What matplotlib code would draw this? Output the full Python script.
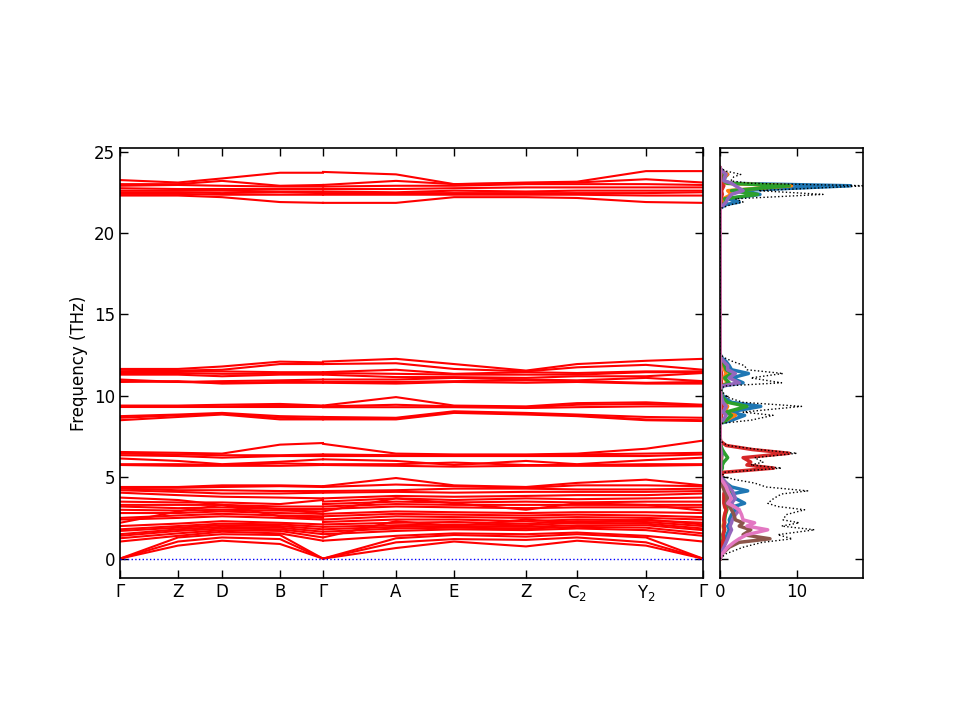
import numpy as np
import matplotlib
matplotlib.use("Agg")
import matplotlib.pyplot as plt

# k-path: high-symmetry points and their distances along the path
kpt_labels = ["Γ", "Z", "D", "B", "Γ", "A", "E", "Z", "C$_2$", "Y$_2$", "Γ"]
kpt_dist = [0.0, 0.0995, 0.1750, 0.2744, 0.3482, 0.4734, 0.5729, 0.6964, 0.7839, 0.9022, 1.0]

# band frequencies (THz): first 5 values = Γ Z D B Γ, last 7 = Γ A E Z C2 Y2 Γ
bands_top = [
    [23.25, 23.1, 23.35, 23.7, 23.7, 23.75, 23.6, 23.0, 23.1, 23.15, 23.8, 23.8],
    [23.0, 23.0, 23.2, 22.9, 22.95, 22.95, 23.2, 23.0, 23.05, 23.1, 23.3, 23.1],
    [22.9, 22.95, 22.9, 22.85, 22.85, 22.85, 22.9, 22.9, 23.0, 23.0, 23.0, 22.95],
    [22.75, 22.7, 22.7, 22.7, 22.7, 22.7, 22.7, 22.75, 22.8, 22.8, 22.8, 22.8],
    [22.6, 22.6, 22.6, 22.55, 22.55, 22.55, 22.5, 22.6, 22.55, 22.6, 22.6, 22.6],
    [22.5, 22.5, 22.45, 22.5, 22.45, 22.45, 22.45, 22.45, 22.45, 22.45, 22.45, 22.5],
    [22.4, 22.4, 22.35, 22.35, 22.35, 22.35, 22.35, 22.35, 22.35, 22.35, 22.3, 22.3],
    [22.3, 22.3, 22.2, 21.9, 21.85, 21.85, 21.85, 22.2, 22.2, 22.15, 21.9, 21.85],
]
bands_11 = [
    [11.65, 11.65, 11.8, 12.1, 12.05, 12.1, 12.27, 11.95, 11.55, 11.95, 12.15, 12.27],
    [11.6, 11.55, 11.6, 11.95, 11.95, 11.95, 12.0, 11.65, 11.5, 11.75, 11.9, 11.6],
    [11.5, 11.5, 11.5, 11.45, 11.45, 11.45, 11.6, 11.35, 11.45, 11.4, 11.5, 11.5],
    [11.4, 11.4, 11.35, 11.35, 11.4, 11.4, 11.35, 11.3, 11.3, 11.3, 11.45, 11.45],
    [11.3, 11.3, 11.2, 11.3, 11.3, 11.3, 11.15, 11.15, 11.1, 11.2, 11.2, 11.4],
    [11.0, 10.85, 10.9, 10.95, 11.0, 11.0, 11.0, 11.1, 11.0, 10.95, 11.1, 10.9],
    [10.9, 10.85, 10.8, 10.85, 10.85, 10.85, 10.85, 10.9, 10.95, 10.9, 10.8, 10.85],
    [10.85, 10.9, 10.75, 10.8, 10.8, 10.8, 10.75, 10.85, 10.8, 10.85, 10.75, 10.75],
]
bands_9 = [
    [9.4, 9.4, 9.45, 9.5, 9.4, 9.4, 9.92, 9.4, 9.35, 9.55, 9.6, 9.45],
    [9.35, 9.35, 9.35, 9.4, 9.35, 9.35, 9.45, 9.35, 9.3, 9.45, 9.5, 9.4],
    [9.3, 9.3, 9.3, 9.3, 9.3, 9.3, 9.3, 9.3, 9.25, 9.3, 9.35, 9.35],
    [8.75, 8.85, 8.95, 8.75, 8.7, 8.7, 8.65, 9.05, 8.95, 8.85, 8.7, 8.65],
    [8.65, 8.8, 8.9, 8.65, 8.6, 8.6, 8.6, 9.0, 8.9, 8.8, 8.55, 8.5],
    [8.5, 8.7, 8.85, 8.55, 8.55, 8.55, 8.55, 8.95, 8.85, 8.75, 8.5, 8.45],
]
bands_6 = [
    [6.55, 6.5, 6.45, 7.0, 7.1, 7.05, 6.45, 6.4, 6.4, 6.45, 6.75, 7.25],
    [6.45, 6.4, 6.35, 6.35, 6.4, 6.4, 6.35, 6.35, 6.35, 6.4, 6.45, 6.5],
    [6.35, 6.3, 6.2, 6.3, 6.3, 6.3, 6.3, 6.3, 6.3, 6.3, 6.3, 6.4],
    [6.15, 6.0, 5.8, 5.95, 6.1, 6.1, 6.0, 5.75, 6.0, 5.8, 6.05, 6.2],
    [5.8, 5.8, 5.75, 5.85, 5.8, 5.8, 5.8, 5.9, 5.75, 5.75, 5.8, 5.8],
    [5.75, 5.7, 5.7, 5.7, 5.75, 5.75, 5.7, 5.65, 5.7, 5.7, 5.7, 5.75],
]
bands_low = [
    [0.0, 0.8, 1.1, 0.9, 0.0, 0.0, 0.65, 1.05, 0.75, 1.1, 0.8, 0.0],
    [0.0, 1.05, 1.3, 1.2, 0.0, 0.0, 1.0, 1.2, 1.15, 1.3, 1.0, 0.0],
    [0.0, 1.3, 1.5, 1.45, 0.0, 0.0, 1.25, 1.45, 1.35, 1.5, 1.3, 0.0],
    [1.05, 1.4, 1.65, 1.55, 1.1, 1.1, 1.4, 1.55, 1.5, 1.6, 1.4, 1.05],
    [1.25, 1.55, 1.75, 1.7, 1.3, 1.3, 2.3, 2.0, 2.4, 2.2, 2.4, 2.1],
    [1.4, 1.7, 1.85, 1.8, 1.5, 1.5, 1.7, 1.8, 1.75, 1.85, 1.75, 1.4],
    [1.5, 1.8, 1.95, 1.9, 1.65, 1.65, 1.85, 1.9, 1.85, 1.95, 1.9, 1.55],
    [1.7, 1.9, 2.05, 2.0, 1.8, 1.8, 1.95, 2.0, 1.95, 2.05, 2.05, 1.75],
    [1.8, 2.0, 2.15, 2.1, 1.95, 1.95, 2.05, 2.1, 2.05, 2.2, 2.15, 1.85],
    [2.0, 2.15, 2.3, 2.2, 2.1, 2.1, 2.2, 2.25, 2.15, 2.3, 2.25, 2.0],
    [2.2, 2.9, 3.3, 3.05, 2.75, 2.25, 2.4, 2.4, 2.3, 2.4, 2.35, 2.2],
    [2.4, 2.5, 2.6, 2.5, 2.4, 2.4, 2.6, 2.55, 2.5, 2.55, 2.5, 2.4],
    [2.5, 2.65, 2.75, 2.65, 2.6, 2.6, 2.75, 2.7, 2.65, 2.7, 2.65, 2.55],
    [2.8, 2.8, 2.9, 2.8, 2.75, 2.75, 2.9, 2.85, 2.8, 2.85, 2.85, 2.8],
    [3.0, 2.95, 3.0, 2.95, 2.9, 2.9, 3.7, 3.4, 3.0, 3.4, 3.3, 2.95],
    [3.2, 3.1, 3.15, 3.05, 3.05, 3.05, 3.2, 3.15, 3.1, 3.15, 3.15, 3.15],
    [3.3, 3.3, 3.3, 3.2, 3.2, 3.2, 3.35, 3.3, 3.3, 3.3, 3.3, 3.3],
    [3.5, 3.45, 3.45, 3.35, 3.6, 3.35, 3.5, 3.45, 3.5, 3.45, 3.5, 3.5],
    [3.75, 3.6, 3.3, 2.6, 2.5, 3.5, 3.7, 3.6, 3.7, 3.65, 3.7, 3.75],
    [4.05, 3.9, 3.8, 3.75, 3.7, 3.7, 3.85, 3.8, 3.85, 3.9, 3.9, 4.0],
    [4.2, 4.1, 4.0, 4.0, 4.05, 4.05, 4.1, 4.05, 4.1, 4.1, 4.1, 4.15],
    [4.3, 4.2, 4.2, 4.15, 4.15, 4.15, 4.2, 4.3, 4.3, 4.25, 4.25, 4.3],
    [4.35, 4.35, 4.4, 4.45, 4.4, 4.4, 4.55, 4.45, 4.35, 4.5, 4.5, 4.45],
    [4.4, 4.4, 4.5, 4.5, 4.45, 4.45, 4.95, 4.5, 4.4, 4.65, 4.85, 4.5],
]

# phonon DOS (states/THz) on a frequency list
dos_freq = [0.0, 0.3, 0.7, 1.0, 1.22, 1.47, 1.77, 2.0, 2.2, 2.38,
            2.7, 3.0, 3.2, 3.4, 3.7, 3.97, 4.16, 4.4, 4.64, 4.85,
            5.05, 5.3, 5.56, 5.75, 5.93, 6.2, 6.47, 6.7, 6.95, 7.2,
            7.5, 8.3, 8.5, 8.8, 9.0, 9.35, 9.6, 9.9, 10.3, 10.6,
            10.8, 11.1, 11.37, 11.6, 11.85, 12.1, 12.35, 12.6, 21.5, 21.75,
            21.9, 22.1, 22.37, 22.6, 22.9, 23.05, 23.2, 23.45, 23.6, 23.8,
            24.0]
dos_total = [0, 0.8, 3.0, 5.5, 9.4, 7.5, 12.3, 8.0, 10.3, 8.2,
             8.6, 11.0, 7.5, 6.2, 7.0, 8.0, 11.4, 6.0, 4.5, 2.0,
             0.3, 0.5, 8.0, 4.0, 5.6, 4.5, 10.0, 5.0, 1.0, 0.1,
             0, 0, 4.0, 6.9, 3.0, 10.6, 3.0, 1.0, 0.2, 0.5,
             8.0, 4.0, 8.2, 3.5, 3.2, 1.7, 0.5, 0, 0, 1.5,
             3.0, 2.0, 13.4, 5.0, 19.0, 4.0, 1.4, 1.8, 2.7, 0.8,
             0]
pdos_1 = [0, 0.1, 0.4, 0.6, 0.8, 0.9, 1.2, 1.0, 1.3, 1.2,
          1.5, 2.0, 1.8, 3.2, 2.0, 1.5, 3.6, 1.5, 0.8, 0.4,
          0.05, 0.05, 0.1, 0.1, 0.2, 0.2, 0.3, 0.2, 0.1, 0,
          0, 0, 1.5, 3.2, 1.2, 5.3, 1.5, 0.5, 0.1, 0.3,
          3.0, 1.5, 3.7, 1.5, 1.2, 0.8, 0.2, 0, 0, 0.8,
          2.5, 1.0, 5.2, 2.0, 17.0, 1.5, 0.5, 0.7, 1.0, 0.3,
          0]
pdos_2 = [0, 0.05, 0.2, 0.3, 0.4, 0.4, 0.5, 0.4, 0.5, 0.5,
          0.6, 0.8, 0.6, 0.7, 0.6, 0.7, 1.0, 0.6, 0.4, 0.2,
          0.05, 0.05, 0.1, 0.1, 0.1, 0.2, 0.2, 0.1, 0.05, 0,
          0, 0, 0.8, 2.0, 0.6, 1.0, 0.5, 0.3, 0.05, 0.2,
          1.0, 0.5, 0.8, 0.6, 0.5, 0.3, 0.1, 0, 0, 0.3,
          0.5, 0.4, 1.5, 1.0, 9.3, 0.8, 0.3, 0.6, 1.0, 0.2,
          0]
pdos_3 = [0, 0.05, 0.2, 0.3, 0.4, 0.4, 0.6, 0.5, 0.6, 0.6,
          0.7, 0.9, 0.8, 1.0, 0.9, 1.0, 1.5, 1.2, 0.8, 0.3,
          0.05, 0.1, 0.3, 0.3, 0.5, 1.0, 0.6, 0.3, 0.1, 0,
          0, 0, 0.8, 1.5, 0.8, 3.5, 1.0, 0.3, 0.05, 0.2,
          1.2, 0.6, 1.5, 0.8, 0.6, 0.4, 0.1, 0, 0, 0.3,
          0.8, 0.6, 4.9, 1.5, 9.0, 1.0, 0.3, 0.4, 0.6, 0.2,
          0]
pdos_4 = [0, 0.05, 0.2, 0.3, 0.5, 0.4, 0.6, 0.5, 0.6, 0.5,
          0.6, 0.8, 0.6, 0.5, 0.5, 0.5, 0.6, 0.4, 0.3, 0.2,
          0.2, 0.4, 7.0, 3.5, 4.0, 3.0, 9.0, 4.2, 0.8, 0.1,
          0, 0, 0.1, 0.2, 0.1, 0.3, 0.1, 0.05, 0, 0,
          0.2, 0.1, 0.2, 0.1, 0.1, 0.05, 0, 0, 0, 0.05,
          0.1, 0.1, 0.3, 0.2, 0.5, 0.2, 0.1, 0.1, 0.1, 0.05,
          0]
pdos_5 = [0, 0.1, 0.5, 0.8, 1.0, 1.2, 1.5, 1.3, 1.5, 1.6,
          2.0, 2.5, 1.8, 1.5, 2.0, 1.8, 1.6, 1.2, 0.8, 0.4,
          0.05, 0.05, 0.1, 0.1, 0.1, 0.1, 0.2, 0.1, 0.05, 0,
          0, 0, 0.4, 0.8, 0.4, 0.8, 0.4, 0.2, 0.05, 0.2,
          2.5, 1.2, 2.0, 1.0, 1.0, 0.5, 0.1, 0, 0, 0.5,
          0.8, 1.0, 1.5, 3.0, 2.0, 1.5, 0.5, 0.6, 0.8, 0.3,
          0]
pdos_6 = [0, 0.3, 1.2, 2.5, 6.5, 3.0, 4.0, 2.5, 3.0, 2.0,
          1.8, 1.5, 1.2, 0.8, 1.0, 0.8, 0.6, 0.4, 0.3, 0.1,
          0, 0, 0.05, 0.05, 0.05, 0.05, 0.05, 0.05, 0, 0,
          0, 0, 0, 0.05, 0, 0.05, 0, 0, 0, 0,
          0.05, 0, 0.05, 0, 0, 0, 0, 0, 0, 0,
          0, 0, 0.05, 0, 0.05, 0, 0, 0, 0, 0,
          0]
pdos_7 = [0, 0.3, 1.0, 1.8, 2.5, 3.5, 6.2, 3.5, 4.5, 3.0,
          2.8, 2.5, 1.8, 1.0, 1.5, 1.2, 1.0, 0.8, 0.5, 0.2,
          0, 0, 0, 0, 0, 0, 0, 0, 0, 0,
          0, 0, 0, 0, 0, 0, 0, 0, 0, 0,
          0, 0, 0, 0, 0, 0, 0, 0, 0, 0,
          0, 0, 0, 0, 0, 0, 0, 0, 0, 0,
          0]
pdos_list = [pdos_1, pdos_2, pdos_3, pdos_4, pdos_5, pdos_6, pdos_7]

plt.rcParams["font.size"] = 12

fig = plt.figure(figsize=(9.6, 7.2), dpi=100)
ax = fig.add_axes([0.125, 0.197, 0.6073, 0.597])
ax2 = fig.add_axes([0.75, 0.197, 0.149, 0.597])

# band structure, two path segments
seg1_x = kpt_dist[0:5]
seg2_x = kpt_dist[4:11]
for group in [bands_top, bands_11, bands_9, bands_6, bands_low]:
    for b in group:
        ax.plot(seg1_x, b[0:5], color="red", lw=1.5)
        ax.plot(seg2_x, b[5:12], color="red", lw=1.5)

ax.plot([kpt_dist[0], kpt_dist[-1]], [0, 0], color="blue", ls=":", lw=1.0, zorder=3)

ax.set_xlim(kpt_dist[0], kpt_dist[-1])
ax.set_ylim(-1.2, 25.2)
ax.set_xticks(kpt_dist)
ax.set_xticklabels(kpt_labels)
ax.set_yticks([0, 5, 10, 15, 20, 25])
ax.set_ylabel("Frequency (THz)")
ax.tick_params(direction="in", top=True, right=True, length=6, width=1)
for s in ax.spines.values():
    s.set_linewidth(1.2)

# DOS panel
colors = ["tab:blue", "tab:orange", "tab:green", "tab:red", "tab:purple", "tab:brown", "tab:pink"]
for p, c in zip(pdos_list, colors):
    ax2.plot(p, dos_freq, color=c, lw=2.5)
ax2.plot(dos_total, dos_freq, color="black", ls=":", lw=1)

ax2.set_xlim(0, 18.6)
ax2.set_ylim(-1.2, 25.2)
ax2.set_xticks([0, 10])
ax2.set_yticks([0, 5, 10, 15, 20, 25])
ax2.set_yticklabels([])
ax2.tick_params(direction="in", top=True, right=True, length=6, width=1)
for s in ax2.spines.values():
    s.set_linewidth(1.2)

fig.savefig("out.png", dpi=100)
